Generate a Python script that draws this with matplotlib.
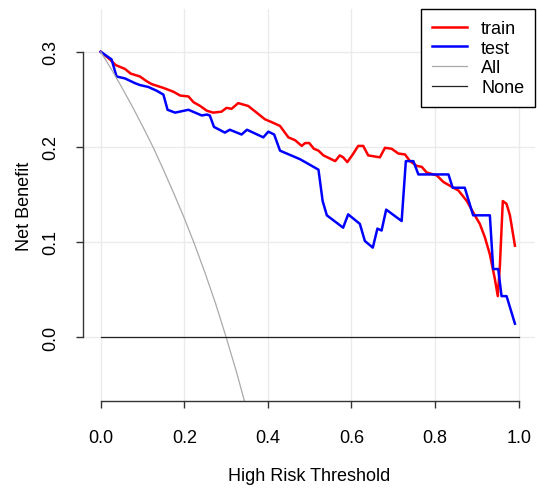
import numpy as np
import matplotlib
matplotlib.use('Agg')
import matplotlib.pyplot as plt

plt.rcParams['font.family'] = ['Liberation Sans', 'DejaVu Sans']

# threshold / net benefit
train_t = [0, 0.022, 0.036, 0.058, 0.072, 0.094, 0.110, 0.122, 0.150, 0.174,
           0.190, 0.210, 0.222, 0.238, 0.254, 0.269, 0.289, 0.301, 0.313, 0.329,
           0.353, 0.373, 0.393, 0.409, 0.429, 0.449, 0.465, 0.481, 0.489, 0.499,
           0.510, 0.521, 0.533, 0.561, 0.572, 0.580, 0.590, 0.603, 0.616, 0.628,
           0.640, 0.668, 0.680, 0.696, 0.712, 0.728, 0.740, 0.756, 0.768, 0.780,
           0.804, 0.820, 0.840, 0.856, 0.876, 0.895, 0.907, 0.919, 0.931, 0.943,
           0.950, 0.955, 0.962, 0.971, 0.979, 0.991]
train_nb = [0.300, 0.292, 0.286, 0.282, 0.277, 0.274, 0.269, 0.266, 0.262, 0.258,
            0.254, 0.253, 0.247, 0.243, 0.238, 0.236, 0.237, 0.241, 0.240, 0.246,
            0.243, 0.236, 0.229, 0.226, 0.222, 0.210, 0.207, 0.201, 0.204, 0.204,
            0.198, 0.196, 0.191, 0.185, 0.191, 0.189, 0.184, 0.192, 0.201, 0.201,
            0.191, 0.189, 0.199, 0.198, 0.193, 0.192, 0.185, 0.180, 0.179, 0.173,
            0.170, 0.163, 0.158, 0.154, 0.143, 0.128, 0.119, 0.105, 0.087, 0.061,
            0.043, 0.075, 0.143, 0.140, 0.128, 0.096]

test_t = [0, 0.026, 0.038, 0.058, 0.082, 0.094, 0.114, 0.134, 0.150, 0.160,
          0.178, 0.210, 0.242, 0.254, 0.261, 0.271, 0.297, 0.309, 0.337, 0.350,
          0.389, 0.401, 0.415, 0.429, 0.477, 0.521, 0.531, 0.541, 0.580, 0.592,
          0.620, 0.632, 0.651, 0.662, 0.672, 0.683, 0.720, 0.730, 0.748, 0.760,
          0.832, 0.842, 0.871, 0.891, 0.931, 0.939, 0.951, 0.959, 0.971, 0.991]
test_nb = [0.300, 0.292, 0.274, 0.272, 0.267, 0.265, 0.263, 0.259, 0.255, 0.239,
           0.236, 0.239, 0.233, 0.234, 0.233, 0.221, 0.215, 0.218, 0.213, 0.218,
           0.210, 0.216, 0.213, 0.196, 0.187, 0.176, 0.143, 0.128, 0.115, 0.129,
           0.119, 0.101, 0.094, 0.114, 0.112, 0.134, 0.122, 0.185, 0.185, 0.171,
           0.171, 0.157, 0.157, 0.128, 0.128, 0.0715, 0.0715, 0.043, 0.043, 0.014]

all_t = [0, 0.025, 0.05, 0.075, 0.1, 0.125, 0.15, 0.175, 0.2, 0.225, 0.25,
         0.275, 0.3, 0.325, 0.35]
all_nb = [0.300, 0.282, 0.263, 0.243, 0.222, 0.200, 0.176, 0.151, 0.125, 0.097,
          0.067, 0.035, 0.0, -0.037, -0.077]

none_t = [0, 1]
none_nb = [0, 0]

fig = plt.figure(figsize=(5.37, 4.89), dpi=100)
ax = fig.add_axes([83/537, 87/489, 452/537, 392/489])

ax.grid(True, color='#EBEBEB', lw=1)
ax.set_axisbelow(True)

ax.plot(train_t, train_nb, color='#FF0000', lw=1.8, label='train')
ax.plot(test_t, test_nb, color='#0000FF', lw=1.8, label='test')
ax.plot(all_t, all_nb, color='#AAAAAA', lw=0.9, label='All')
ax.plot(none_t, none_nb, color='#222222', lw=0.9, label='None')

ax.set_xlim(-0.0423, 1.039)
ax.set_ylim(-0.0673, 0.345)
ax.set_xticks([0, 0.2, 0.4, 0.6, 0.8, 1.0])
ax.set_yticks([0, 0.1, 0.2, 0.3])
ax.set_xticklabels(['0.0', '0.2', '0.4', '0.6', '0.8', '1.0'])
ax.set_yticklabels(['0.0', '0.1', '0.2', '0.3'], rotation=90, va='center')

for s in ['top', 'right']:
    ax.spines[s].set_visible(False)
ax.spines['left'].set_bounds(0, 0.3)
ax.spines['bottom'].set_bounds(0, 1)
for s in ['left', 'bottom']:
    ax.spines[s].set_color('#333333')
    ax.spines[s].set_linewidth(1)
ax.tick_params(direction='out', length=5, width=1, color='#333333',
               labelsize=13, pad=12)
ax.tick_params(axis='x', pad=15)

ax.set_xlabel('High Risk Threshold', fontsize=13, labelpad=15)
ax.set_ylabel('Net Benefit', fontsize=13, labelpad=7)

leg = ax.legend(loc='upper right', fontsize=13, frameon=True, fancybox=False,
                borderaxespad=0, handlelength=1.9, handletextpad=0.8,
                labelspacing=0.15, borderpad=0.6)
leg.get_frame().set_edgecolor('black')
leg.get_frame().set_linewidth(1)
leg.get_frame().set_alpha(1)

plt.savefig('out.png', dpi=100)
